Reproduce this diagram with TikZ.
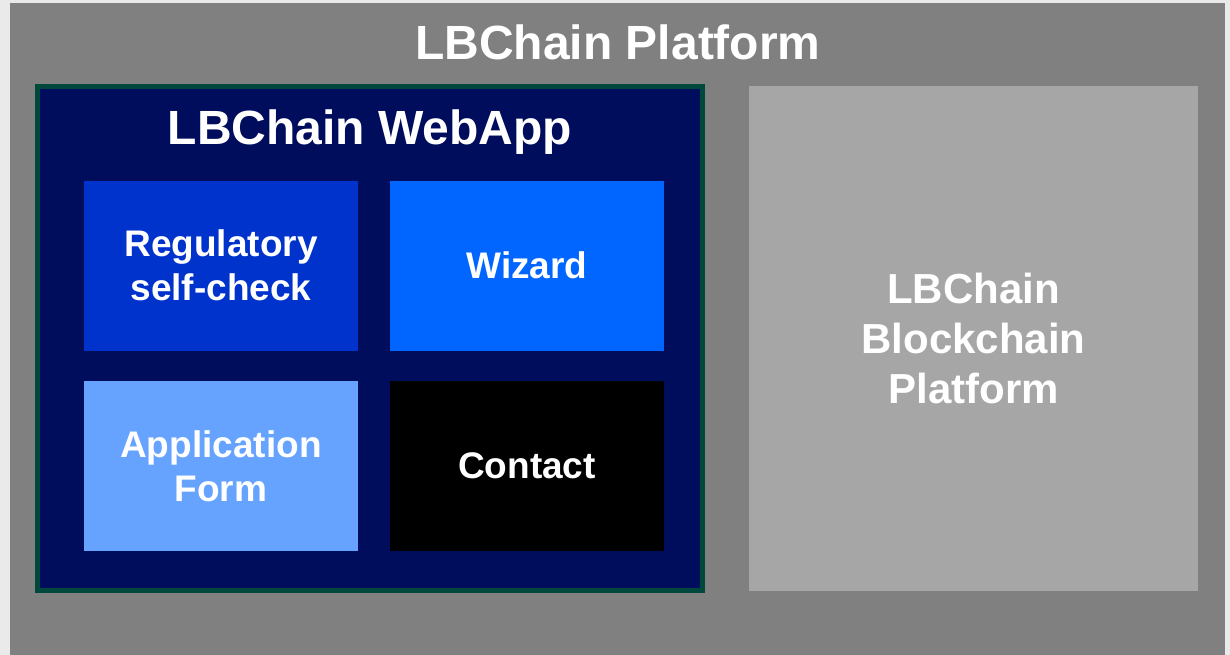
\documentclass[tikz,border=0pt]{standalone}
\usepackage{fontspec}
\setmainfont{Liberation Sans}
\definecolor{bgpage}{HTML}{EAEAEA}
\definecolor{platgray}{HTML}{808080}
\definecolor{chaingray}{HTML}{A6A6A6}
\definecolor{navy}{HTML}{000D5C}
\definecolor{navyborder}{HTML}{00483C}
\definecolor{regblue}{HTML}{0033CC}
\definecolor{wizblue}{HTML}{0066FF}
\definecolor{appblue}{HTML}{66A3FF}
\tikzset{
  tile/.style={rectangle, inner sep=0pt, minimum width=274pt, minimum height=170pt,
    text=white, align=center, font=\fontsize{37}{44}\selectfont\bfseries},
  bigtitle/.style={anchor=base, text=white, inner sep=0pt, font=\fontsize{48}{56}\selectfont\bfseries},
}
\begin{document}
\begin{tikzpicture}[x=1pt,y=-1pt]
\useasboundingbox (0,0) rectangle (1230,655);
\fill[bgpage] (0,0) rectangle (1230,655);
\fill[platgray] (10,3) rectangle (1225,655);
\node[bigtitle] (plattitle) at (618,60) {LBChain Platform};
% WebApp container
\node[rectangle, fill=navy, draw=navyborder, line width=5pt, inner sep=0pt,
  minimum width=665pt, minimum height=504pt] (webapp) at (370,338.5) {};
\node[bigtitle] (webtitle) at (370,145) {LBChain WebApp};
% tiles
\node[tile, fill=regblue] (reg) at (221,265.5) {Regulatory\\self-check};
\node[tile, fill=wizblue] (wiz) at (527,265.5) {Wizard};
\node[tile, fill=appblue] (app) at (221,466) {Application\\Form};
\node[tile, fill=black] (contact) at (527,466) {Contact};
% Blockchain platform
\node[rectangle, fill=chaingray, inner sep=0pt, minimum width=449pt, minimum height=505pt,
  text=white, align=center, font=\fontsize{42}{50}\selectfont\bfseries] (chain) at (973.5,338.5)
  {LBChain\\Blockchain\\Platform};
\end{tikzpicture}
\end{document}
